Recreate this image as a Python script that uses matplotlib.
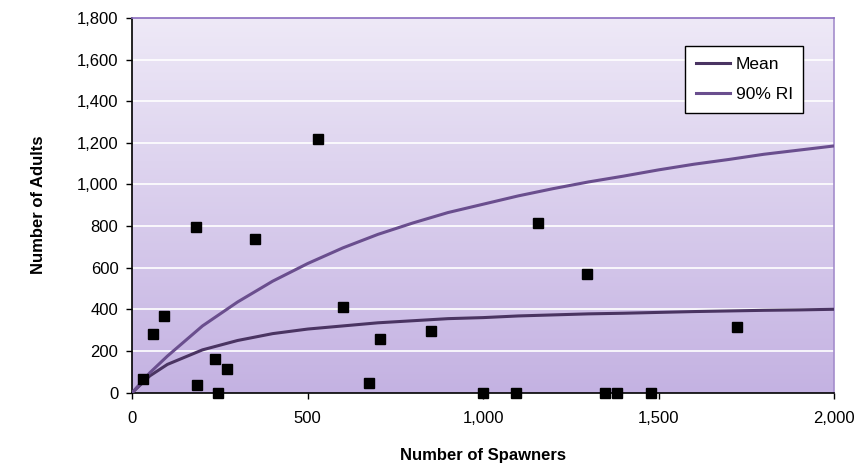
import numpy as np
import matplotlib.pyplot as plt
from matplotlib.colors import LinearSegmentedColormap
from matplotlib.ticker import FuncFormatter

plt.rcParams['font.family'] = ['Liberation Sans', 'DejaVu Sans']

# observed spawners / adults
spawners = [30, 58, 90, 182, 185, 235, 245, 270, 349, 529, 600, 675, 705, 850,
            1000, 1094, 1157, 1297, 1346, 1380, 1477, 1723]
adults = [66, 280, 370, 796, 35, 163, 0, 115, 738, 1219, 410, 47, 255, 297,
          0, 0, 816, 570, 0, 0, 0, 315]

# fitted curves
curve_x = [0, 50, 100, 200, 300, 400, 500, 600, 700, 800, 900, 1000, 1100, 1200,
           1300, 1400, 1500, 1600, 1700, 1800, 1900, 2000]
mean_y = [0, 80, 135, 205, 250, 283, 305, 320, 335, 345, 355, 360, 368, 373,
          378, 381, 385, 389, 392, 395, 397, 400]
ri_y = [0, 95, 175, 320, 435, 535, 620, 695, 760, 815, 865, 905, 945, 980,
        1012, 1040, 1070, 1097, 1120, 1145, 1165, 1185]

fig = plt.figure(figsize=(8.67, 4.67), dpi=100)
ax = fig.add_axes([0.1526, 0.1595, 0.8094, 0.802])

# gradient background
grad = LinearSegmentedColormap.from_list('bg', ['#c4b2e2', '#eee9f7'])
ax.imshow(np.linspace(0, 1, 256).reshape(-1, 1), cmap=grad, origin='lower',
          extent=[0, 2000, 0, 1800], aspect='auto', zorder=0)

for yv in range(200, 1800, 200):
    ax.axhline(yv, color='white', lw=1.2, zorder=1)

ax.plot(curve_x, mean_y, color='#4a3462', lw=2.2, label='Mean', zorder=3)
ax.plot(curve_x, ri_y, color='#6a4e8e', lw=2.2, label='90% RI', zorder=3)
ax.plot(spawners, adults, 's', color='black', ms=6.5, zorder=4, clip_on=False)

ax.set_xlim(0, 2000)
ax.set_ylim(0, 1800)
ax.set_xticks([0, 500, 1000, 1500, 2000])
ax.set_yticks(range(0, 1801, 200))
fmt = FuncFormatter(lambda v, p: f'{int(v):,}')
ax.xaxis.set_major_formatter(fmt)
ax.yaxis.set_major_formatter(fmt)
ax.tick_params(labelsize=12, colors='black', length=4, width=1)
ax.tick_params(axis='y', pad=6)
ax.tick_params(axis='x', pad=9)

for s in ['left', 'bottom']:
    ax.spines[s].set_color('black')
    ax.spines[s].set_linewidth(1.2)
ax.spines['top'].set_color('#8a6cbf')
ax.spines['right'].set_color('#a48dcc')
ax.spines['top'].set_linewidth(1.2)
ax.spines['right'].set_linewidth(1.2)

ax.set_xlabel('Number of Spawners', fontsize=12, fontweight='bold', labelpad=16)
ax.set_ylabel('Number of Adults', fontsize=12, fontweight='bold', labelpad=22)

leg = ax.legend(loc='upper right', bbox_to_anchor=(0.956, 0.925), fontsize=12.5,
                borderaxespad=0, fancybox=False, framealpha=1, edgecolor='black',
                handlelength=2.0, handletextpad=0.3, labelspacing=0.9,
                borderpad=0.6)
leg.get_frame().set_linewidth(1)

fig.savefig('out.png', dpi=100)
